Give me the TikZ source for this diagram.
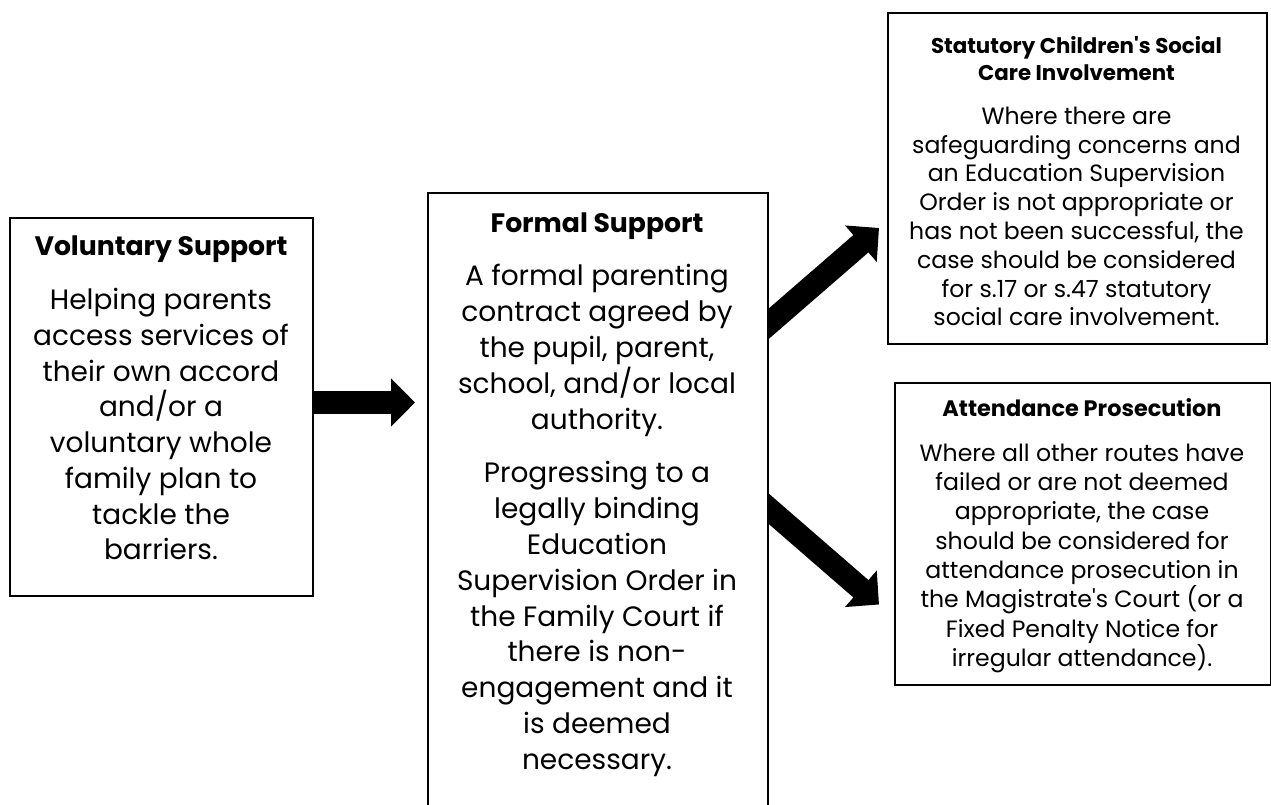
\documentclass[tikz,border=0pt]{standalone}
\usepackage{fontspec}
\setmainfont{Poppins}
\usetikzlibrary{arrows.meta,backgrounds}

\tikzset{
  cardbox/.style={draw, line width=1.5pt, fill=white, inner sep=0pt, anchor=north west},
  bigtitle/.style={font=\bfseries\fontsize{20}{24}\selectfont, inner sep=0pt, anchor=base},
  smalltitle/.style={font=\bfseries\fontsize{16}{20.25}\selectfont, align=center, inner sep=0pt, anchor=north},
  bigbody/.style={font=\fontsize{21}{26.8}\selectfont, align=center, inner sep=0pt, anchor=north},
  smallbody/.style={font=\fontsize{17.7}{21.6}\selectfont, align=center, inner sep=0pt, anchor=north},
  fatarrow/.style={line width=17.25pt, -{Triangle[length=18pt,width=35.25pt]}},
}

\begin{document}
\begin{tikzpicture}[x=0.75pt, y=-0.75pt]
    \useasboundingbox (0,0) rectangle (1271,805);
    \clip (0,0) rectangle (1271,805);

    % The four boxes
    \node[cardbox, minimum width=227.25pt, minimum height=283.5pt] (vol) at (9,217) {};
    \node[cardbox, minimum width=255pt, minimum height=480pt] (form) at (427,192) {};
    \node[cardbox, minimum width=284.25pt, minimum height=248.25pt] (stat) at (887,12) {};
    \node[cardbox, minimum width=282pt, minimum height=226.5pt] (att) at (894,382) {};

    % Voluntary support
    \node[bigtitle] (voltitle) at (161,256) {Voluntary Support};
    \node[bigbody] (voltext) at (161,284.5) {\strut Helping parents\\access services of\\their own accord\\and/or a\\voluntary whole\\family plan to\\tackle the\\barriers.};

    % Formal support
    \node[bigtitle] (formtitle) at (597,233) {Formal Support};
    \node[bigbody, font=\fontsize{21}{26.85}\selectfont] (formtext) at (597,260.5) {\strut A formal parenting\\contract agreed by\\the pupil, parent,\\school, and/or local\\authority.\\[13.5pt]Progressing to a\\legally binding\\Education\\Supervision Order in\\the Family Court if\\there is non-\\engagement and it\\is deemed\\necessary.};

    % Statutory social care
    \node[smalltitle] (stattitle) at (1076.5,34) {\strut Statutory Children\textquotesingle s Social\\Care Involvement};
    \node[smallbody] (stattext) at (1076.5,103.8) {\strut Where there are\\safeguarding concerns and\\an Education Supervision\\Order is not appropriate or\\has not been successful, the\\case should be considered\\for s.17 or s.47 statutory\\social care involvement.};

    % Prosecution
    \node[bigtitle, font=\bfseries\fontsize{16.8}{20.25}\selectfont] (atttitle) at (1082,417) {Attendance Prosecution};
    \node[smallbody, font=\fontsize{17.7}{22}\selectfont] (atttext) at (1082,440.4) {\strut Where all other routes have\\failed or are not deemed\\appropriate, the case\\should be considered for\\attendance prosecution in\\the Magistrate\textquotesingle s Court (or a\\Fixed Penalty Notice for\\irregular attendance).};

    % Arrows go under the boxes
    \coordinate (midrow) at (0,402.5);
    \coordinate (uprow) at (0,323.5);
    \coordinate (uptip) at (879,228);
    \coordinate (downrow) at (0,509);
    \coordinate (downtip) at (879,604.5);
    \begin{pgfonlayer}{background}
        \fill[white] (0,0) rectangle (1271,805);
        \draw[fatarrow, shorten >=9pt] (vol.east |- midrow) -- (form.west |- midrow);
        \draw[fatarrow, shorten <=-12pt] (form.east |- uprow) -- (uptip);
        \draw[fatarrow, shorten <=-12pt] (form.east |- downrow) -- (downtip);
    \end{pgfonlayer}
\end{tikzpicture}
\end{document}
